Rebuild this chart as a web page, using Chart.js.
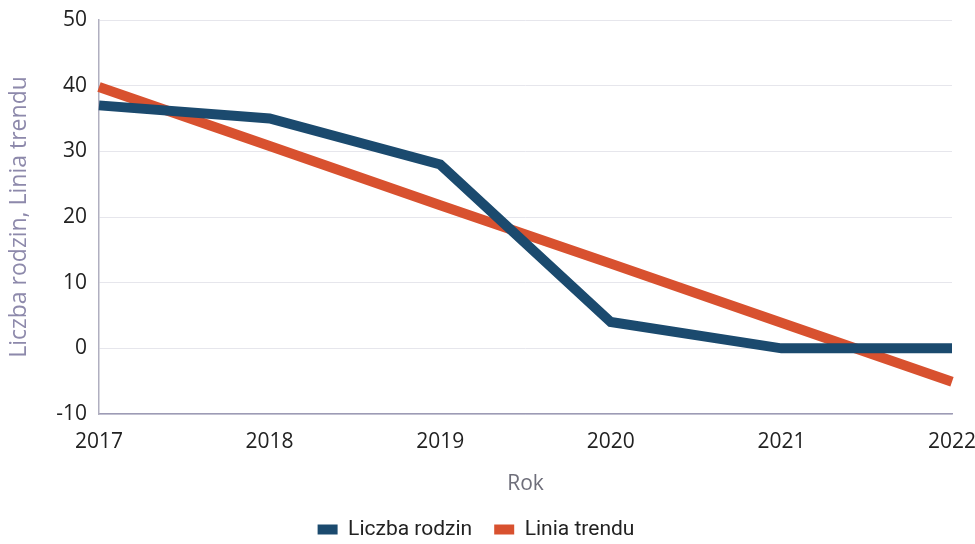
<!DOCTYPE html>
<html>
<head>
<meta charset="utf-8">
<script src="https://cdn.jsdelivr.net/npm/chart.js@4"></script>
<style>
html,body{margin:0;padding:0;background:#fff;}
#wrap{width:975px;height:544px;}
</style>
</head>
<body>
<div id="wrap"><canvas id="chart"></canvas></div>
<script>
const years=["2017","2018","2019","2020","2021","2022"];
const families=[37,35,28,4,0,0];
const trend=[39.8,30.8,21.8,12.9,3.9,-5.1];
const yTicks=[-10,0,10,20,30,40,50];

function draw(){
const ctx=document.getElementById("chart");

new Chart(ctx,{
type:"line",
data:{
labels:years,
datasets:[{
label:"Liczba rodzin",
data:families,
borderColor:"#1b4a6e",
backgroundColor:"#1b4a6e",
borderWidth:10,
pointRadius:0,
tension:0
},{
label:"Linia trendu",
data:trend,
borderColor:"#d8512f",
backgroundColor:"#d8512f",
borderWidth:10,
pointRadius:0,
tension:0
}]
},
options:{
responsive:true,
maintainAspectRatio:false,
animation:false,
layout:{padding:{top:20,right:23,left:0,bottom:-6}},
plugins:{
legend:{
position:"bottom",
labels:{
boxWidth:20,
boxHeight:10,
color:"#222",
padding:22,
font:{family:"Roboto",size:21},
generateLabels:chart=>Chart.defaults.plugins.legend.labels.generateLabels(chart).map(l=>({...l,lineWidth:0}))
}
},
tooltip:{enabled:false}
},
scales:{
x:{
offset:false,
grid:{display:false,drawTicks:false},
border:{color:"#9d9bb5",width:1.5},
ticks:{color:"#222",padding:15,font:{family:"'Open Sans'",size:21},maxRotation:0},
title:{display:true,text:"Rok",color:"#6e6e7a",padding:{top:12,bottom:0},font:{family:"'Open Sans'",size:21}},
afterFit:s=>{s.height=83;s.paddingLeft=0;s.paddingRight=0;}
},
y:{
min:-10,
max:50,
afterBuildTicks:s=>{s.ticks=yTicks.map(v=>({value:v}));},
grid:{color:"#e6e6ec",lineWidth:1,drawTicks:false},
border:{color:"#b0afc0",width:1.5,dash:[]},
ticks:{color:"#222",padding:12,font:{family:"'Open Sans'",size:21}},
title:{display:true,text:"Liczba rodzin, Linia trendu",color:"#8d89ab",padding:{top:6,bottom:0},font:{family:"'Open Sans'",size:23}},
afterFit:s=>{s.width=99;s.paddingTop=0;s.paddingBottom=0;}
}
}
}
});
}

Promise.all([
document.fonts.load("21px 'Open Sans'"),
document.fonts.load("21px Roboto")
]).then(draw,draw);
</script>
</body>
</html>
